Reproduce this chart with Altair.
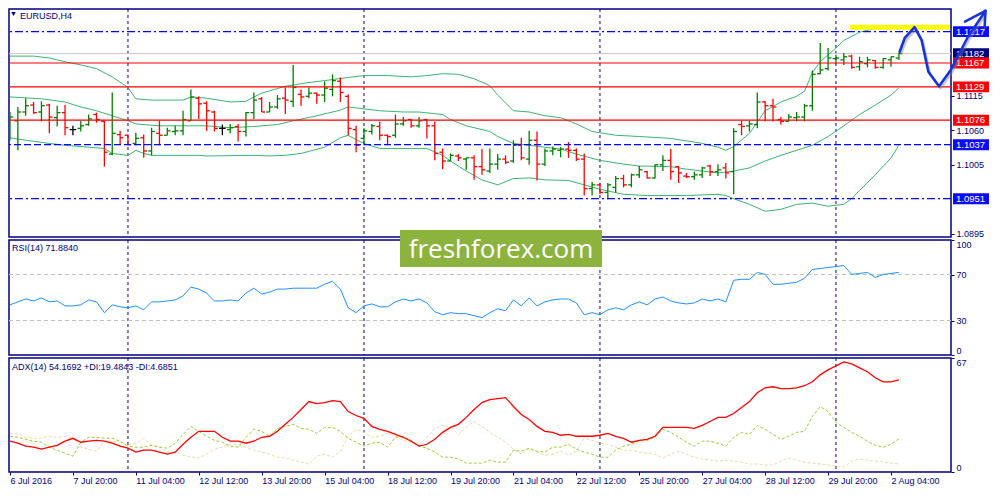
import json

import altair as alt
import pandas as pd

# EURUSD H4 bars, one per 4 hours from 6 Jul 2016 12:00
bar_open = [
    1.1074, 1.1075, 1.1089, 1.1100, 1.1089, 1.1100, 1.1080, 1.1088, 1.1061, 1.1063,
    1.1069, 1.1085, 1.1074, 1.1022, 1.1053, 1.1052, 1.1039, 1.1048, 1.1027, 1.1055,
    1.1052, 1.1058, 1.1059, 1.1075, 1.1111, 1.1103, 1.1089, 1.1063, 1.1061, 1.1066,
    1.1058, 1.1088, 1.1110, 1.1089, 1.1097, 1.1111, 1.1106, 1.1117, 1.1114, 1.1119,
    1.1116, 1.1125, 1.1138, 1.1114, 1.1061, 1.1047, 1.1058, 1.1066, 1.1052, 1.1052,
    1.1070, 1.1077, 1.1067, 1.1077, 1.1067, 1.1025, 1.1011, 1.1019, 1.1014, 1.1016,
    1.1002, 1.0995, 1.1006, 1.1014, 1.1011, 1.1036, 1.1014, 1.1044, 1.1006, 1.1027,
    1.1028, 1.1030, 1.1028, 1.1014, 1.0967, 1.0973, 1.0961, 1.0969, 1.0983, 1.0973,
    1.0989, 1.0994, 1.0984, 1.1005, 1.1012, 1.1002, 1.0987, 1.0986, 1.0989, 1.1003,
    1.0994, 1.1000, 1.0994, 1.1069, 1.1067, 1.1069, 1.1105, 1.1099, 1.1077, 1.1074,
    1.1080, 1.1081, 1.1099, 1.1150, 1.1158, 1.1174, 1.1172, 1.1178, 1.1161, 1.1166,
    1.1171, 1.1160, 1.1172, 1.1175,
]
bar_high = [
    1.1089, 1.1097, 1.1111, 1.1105, 1.1106, 1.1102, 1.1099, 1.1100, 1.1067, 1.1075,
    1.1085, 1.1088, 1.1075, 1.1120, 1.1059, 1.1053, 1.1056, 1.1053, 1.1064, 1.1075,
    1.1064, 1.1067, 1.1091, 1.1125, 1.1114, 1.1106, 1.1091, 1.1069, 1.1070, 1.1070,
    1.1089, 1.1120, 1.1113, 1.1105, 1.1116, 1.1128, 1.1164, 1.1125, 1.1128, 1.1120,
    1.1138, 1.1149, 1.1144, 1.1117, 1.1067, 1.1063, 1.1070, 1.1074, 1.1053, 1.1085,
    1.1081, 1.1078, 1.1081, 1.1078, 1.1074, 1.1031, 1.1023, 1.1022, 1.1016, 1.1020,
    1.1030, 1.1031, 1.1022, 1.1020, 1.1044, 1.1048, 1.1059, 1.1058, 1.1031, 1.1034,
    1.1033, 1.1041, 1.1031, 1.1023, 1.0978, 1.0976, 1.0976, 1.0987, 1.0989, 1.0991,
    1.1003, 1.0995, 1.1006, 1.1020, 1.1030, 1.1003, 1.0992, 1.0994, 1.1002, 1.1005,
    1.1006, 1.1008, 1.1063, 1.1075, 1.1075, 1.1120, 1.1106, 1.1110, 1.1081, 1.1086,
    1.1089, 1.1102, 1.1155, 1.1199, 1.1191, 1.1180, 1.1183, 1.1180, 1.1177, 1.1177,
    1.1172, 1.1175, 1.1177, 1.1183,
]
bar_low = [
    1.1044, 1.1028, 1.1083, 1.1086, 1.1074, 1.1055, 1.1066, 1.1052, 1.1052, 1.1058,
    1.1067, 1.1072, 1.1002, 1.1020, 1.1037, 1.1036, 1.1036, 1.1016, 1.1020, 1.1036,
    1.1052, 1.1052, 1.1052, 1.1075, 1.1078, 1.1059, 1.1058, 1.1052, 1.1055, 1.1042,
    1.1050, 1.1078, 1.1089, 1.1089, 1.1094, 1.1086, 1.1097, 1.1099, 1.1111, 1.1102,
    1.1105, 1.1114, 1.1105, 1.1052, 1.1025, 1.1036, 1.1053, 1.1044, 1.1036, 1.1048,
    1.1067, 1.1064, 1.1064, 1.1047, 1.1012, 1.0998, 1.1011, 1.1011, 1.0997, 1.0981,
    1.0989, 1.0992, 1.0997, 1.1006, 1.1008, 1.1012, 1.1005, 1.0980, 1.1003, 1.1020,
    1.1017, 1.1016, 1.1011, 1.0956, 1.0956, 1.0958, 1.0950, 1.0961, 1.0969, 1.0969,
    1.0984, 1.0983, 1.0983, 1.0995, 1.0981, 1.0976, 1.0984, 1.0981, 1.0984, 1.0987,
    1.0987, 1.0983, 1.0958, 1.1052, 1.1058, 1.1063, 1.1074, 1.1074, 1.1069, 1.1074,
    1.1074, 1.1074, 1.1091, 1.1149, 1.1155, 1.1166, 1.1164, 1.1158, 1.1155, 1.1160,
    1.1158, 1.1158, 1.1161, 1.1172,
]
bar_close = [
    1.1081, 1.1089, 1.1099, 1.1088, 1.1099, 1.1081, 1.1088, 1.1064, 1.1061, 1.1067,
    1.1078, 1.1077, 1.1025, 1.1055, 1.1048, 1.1037, 1.1047, 1.1027, 1.1058, 1.1052,
    1.1059, 1.1059, 1.1077, 1.1113, 1.1102, 1.1091, 1.1063, 1.1063, 1.1064, 1.1058,
    1.1088, 1.1108, 1.1089, 1.1097, 1.1110, 1.1108, 1.1128, 1.1113, 1.1119, 1.1116,
    1.1127, 1.1139, 1.1120, 1.1063, 1.1036, 1.1059, 1.1067, 1.1052, 1.1050, 1.1070,
    1.1075, 1.1067, 1.1075, 1.1067, 1.1023, 1.1011, 1.1020, 1.1016, 1.1016, 1.1002,
    1.0997, 1.1006, 1.1014, 1.1009, 1.1036, 1.1016, 1.1044, 1.1006, 1.1027, 1.1030,
    1.1030, 1.1028, 1.1014, 1.0967, 1.0973, 1.0961, 1.0973, 1.0983, 1.0973, 1.0989,
    1.0997, 1.0984, 1.1005, 1.1012, 1.0994, 1.0992, 1.0986, 1.0989, 1.1000, 1.0994,
    1.0997, 1.0992, 1.1058, 1.1066, 1.1070, 1.1105, 1.1099, 1.1097, 1.1074, 1.1081,
    1.1081, 1.1099, 1.1149, 1.1156, 1.1175, 1.1175, 1.1177, 1.1160, 1.1169, 1.1172,
    1.1160, 1.1174, 1.1177, 1.1182,
]

# Bollinger bands, read at selected bars
upper_bar = [0, 3, 5, 7, 9, 11, 13, 15, 16, 18, 20, 22, 23, 25, 28, 30, 31, 32, 35, 38,
             40, 43, 45, 48, 51, 53, 55, 57, 59, 61, 62, 64, 66, 68, 70, 72, 74, 77, 80, 84,
             88, 90, 91, 92, 94, 96, 98, 100, 101, 102, 103, 104, 105, 106, 108, 110, 112, 113]
upper_val = [1.1178, 1.1178, 1.1175, 1.1169, 1.1164, 1.1158, 1.1145, 1.1128, 1.1110, 1.1108,
             1.1108, 1.1108, 1.1113, 1.1111, 1.1105, 1.1106, 1.1113, 1.1119, 1.1130, 1.1136,
             1.1139, 1.1144, 1.1147, 1.1147, 1.1145, 1.1147, 1.1150, 1.1149, 1.1142, 1.1131,
             1.1116, 1.1091, 1.1089, 1.1083, 1.1080, 1.1070, 1.1058, 1.1052, 1.1050, 1.1047,
             1.1039, 1.1033, 1.1028, 1.1034, 1.1055, 1.1091, 1.1105, 1.1114, 1.1122, 1.1152,
             1.1169, 1.1180, 1.1191, 1.1203, 1.1216, 1.1222, 1.1224, 1.1221]
middle_bar = [0, 4, 7, 9, 11, 13, 15, 16, 19, 23, 25, 28, 31, 34, 36, 39, 42, 43, 45, 47,
              50, 52, 55, 56, 58, 61, 62, 64, 68, 70, 72, 75, 78, 80, 84, 86, 90, 92, 94, 96,
              98, 100, 102, 104, 106, 108, 110, 112, 113]
middle_val = [1.1113, 1.1110, 1.1105, 1.1097, 1.1091, 1.1083, 1.1075, 1.1070, 1.1067, 1.1067,
              1.1067, 1.1064, 1.1066, 1.1069, 1.1075, 1.1083, 1.1092, 1.1097, 1.1094, 1.1091,
              1.1089, 1.1089, 1.1085, 1.1077, 1.1067, 1.1058, 1.1050, 1.1039, 1.1033, 1.1030,
              1.1022, 1.1012, 1.1006, 1.1003, 1.1002, 1.0998, 1.0992, 1.0995, 1.1000, 1.1011,
              1.1020, 1.1028, 1.1036, 1.1050, 1.1067, 1.1085, 1.1100, 1.1116, 1.1127]
lower_bar = [0, 2, 5, 7, 10, 12, 13, 15, 16, 17, 18, 24, 25, 31, 33, 35, 37, 40, 42, 43,
             44, 45, 47, 51, 53, 55, 56, 58, 60, 62, 64, 66, 68, 71, 73, 75, 78, 81, 86, 90,
             91, 92, 94, 96, 98, 100, 102, 104, 106, 107, 108, 110, 112, 113]
lower_val = [1.1048, 1.1044, 1.1039, 1.1036, 1.1033, 1.1031, 1.1023, 1.1020, 1.1028, 1.1023,
             1.1020, 1.1020, 1.1019, 1.1020, 1.1019, 1.1020, 1.1023, 1.1033, 1.1048, 1.1052,
             1.1045, 1.1039, 1.1031, 1.1031, 1.1031, 1.1020, 1.1011, 1.0995, 1.0981, 1.0973,
             1.0983, 1.0984, 1.0981, 1.0980, 1.0973, 1.0966, 1.0958, 1.0956, 1.0956, 1.0958,
             1.0956, 1.0951, 1.0942, 1.0931, 1.0934, 1.0942, 1.0944, 1.0939, 1.0942, 1.0951,
             1.0964, 1.0989, 1.1016, 1.1036]

rsi_14 = [
    43.6, 46.2, 48.7, 47.0, 49.6, 46.2, 47.0, 42.7, 42.7, 43.6,
    47.9, 46.2, 36.8, 43.6, 41.9, 41.0, 42.7, 39.3, 46.2, 46.2,
    47.0, 47.9, 51.3, 59.0, 57.3, 53.8, 47.0, 47.0, 47.9, 47.0,
    53.8, 58.1, 53.0, 54.7, 57.3, 57.3, 58.1, 58.1, 58.1, 58.1,
    61.5, 64.1, 57.3, 41.0, 36.8, 42.7, 44.4, 41.9, 41.9, 46.2,
    48.7, 47.0, 48.7, 45.3, 37.6, 35.0, 36.8, 35.9, 35.9, 34.2,
    32.5, 36.8, 40.2, 38.5, 47.9, 42.7, 49.6, 42.7, 46.2, 47.9,
    48.7, 48.7, 45.3, 35.0, 36.8, 35.0, 39.3, 41.0, 39.3, 43.6,
    46.2, 43.6, 48.7, 50.4, 47.0, 45.3, 44.4, 45.3, 48.7, 47.0,
    48.7, 46.2, 65.0, 65.8, 65.8, 71.8, 70.1, 61.5, 61.5, 62.4,
    63.2, 66.7, 74.4, 75.2, 76.1, 76.9, 77.8, 70.1, 70.9, 71.8,
    67.5, 70.1, 70.9, 71.9,
]
adx_14 = [
    18.1, 16.9, 15.2, 14.6, 13.4, 14.6, 15.7, 18.1, 19.8, 17.5,
    18.1, 18.6, 18.1, 16.9, 15.2, 14.0, 11.7, 12.8, 12.8, 11.7,
    10.5, 11.7, 16.3, 20.4, 23.9, 23.9, 23.9, 20.4, 18.1, 18.1,
    16.9, 18.1, 20.4, 21.0, 23.9, 28.0, 32.1, 36.7, 41.4, 40.2,
    40.8, 42.0, 41.4, 35.5, 33.2, 31.5, 26.8, 25.1, 23.9, 22.1,
    20.4, 18.1, 15.2, 16.3, 19.2, 23.3, 26.2, 28.0, 32.1, 36.7,
    40.8, 42.5, 43.1, 43.7, 38.5, 33.8, 30.9, 26.8, 23.9, 23.3,
    21.6, 22.1, 21.0, 21.0, 21.0, 21.6, 22.7, 21.0, 19.8, 17.5,
    18.6, 19.2, 21.0, 26.2, 26.2, 26.2, 26.2, 25.6, 27.4, 29.7,
    32.1, 32.1, 34.4, 37.9, 41.4, 46.6, 49.5, 50.1, 49.0, 49.0,
    49.5, 50.7, 53.0, 57.1, 60.0, 62.4, 64.7, 63.5, 61.2, 58.9,
    55.4, 53.0, 53.0, 54.2,
]
plus_di = [
    21.0, 20.4, 19.2, 18.1, 17.5, 14.6, 12.8, 11.1, 9.3, 17.5,
    20.4, 20.4, 19.8, 19.8, 18.1, 15.2, 14.6, 14.6, 15.7, 14.6,
    14.0, 16.9, 22.1, 26.8, 23.9, 21.0, 18.6, 17.5, 15.2, 14.6,
    20.4, 25.1, 23.9, 21.0, 25.6, 26.8, 28.0, 25.6, 25.1, 22.7,
    26.2, 26.2, 23.9, 19.8, 17.5, 15.2, 16.9, 17.5, 14.6, 20.4,
    21.0, 18.6, 15.2, 14.0, 11.7, 8.7, 8.7, 7.6, 5.2, 5.2,
    5.2, 7.0, 5.8, 5.8, 12.8, 12.2, 14.0, 12.2, 11.7, 14.6,
    14.6, 16.3, 13.4, 11.7, 10.5, 8.7, 8.7, 12.8, 15.2, 16.3,
    18.1, 18.6, 20.4, 25.1, 23.3, 20.4, 17.5, 15.2, 18.1, 18.1,
    16.9, 15.2, 20.4, 23.3, 22.1, 27.4, 25.1, 22.1, 19.2, 21.0,
    23.3, 23.9, 32.6, 38.5, 35.5, 29.1, 26.2, 23.3, 21.0, 18.1,
    15.7, 14.6, 16.3, 19.5,
]
minus_di = [
    22.7, 22.7, 20.4, 19.8, 19.8, 21.0, 20.4, 21.0, 19.8, 14.6,
    13.4, 12.2, 18.1, 18.1, 17.5, 15.7, 16.9, 19.8, 15.7, 14.6,
    12.2, 11.7, 9.9, 8.7, 8.2, 10.5, 13.4, 14.6, 16.3, 16.3,
    14.6, 12.8, 11.7, 10.5, 8.7, 8.2, 7.0, 5.8, 4.7, 9.3,
    10.5, 8.7, 12.2, 21.0, 25.1, 23.3, 20.4, 21.0, 22.7, 21.0,
    18.6, 17.5, 16.3, 20.4, 25.6, 27.4, 26.2, 22.1, 26.2, 29.7,
    26.8, 23.3, 20.4, 17.5, 13.4, 10.5, 13.4, 11.7, 9.9, 10.5,
    12.2, 9.9, 12.2, 19.8, 18.6, 16.9, 16.3, 14.6, 12.8, 12.8,
    11.7, 11.1, 10.5, 8.2, 10.5, 12.2, 10.5, 8.7, 7.6, 7.0,
    6.4, 7.0, 6.4, 5.8, 4.7, 4.7, 4.1, 4.1, 6.4, 8.2,
    7.0, 5.8, 5.2, 4.7, 4.1, 3.5, 2.9, 6.4, 7.6, 7.0,
    6.4, 5.8, 5.2, 4.7,
]

time_labels = ["6 Jul 2016", "7 Jul 20:00", "11 Jul 04:00", "12 Jul 12:00", "13 Jul 20:00",
               "15 Jul 04:00", "18 Jul 12:00", "19 Jul 20:00", "21 Jul 04:00", "22 Jul 12:00",
               "25 Jul 20:00", "27 Jul 04:00", "28 Jul 12:00", "29 Jul 20:00", "2 Aug 04:00"]
label_bars = list(range(0, 113, 8))
week_starts = [15, 45, 75, 105]

red_levels = [1.1167, 1.1129, 1.1076]
blue_levels = [1.1217, 1.0951]
blue_dashed_levels = [1.1037]
bid_price = 1.1182
price_ticks = [1.0895, 1.1005, 1.1060, 1.1115]
box_prices = [1.1217, 1.1182, 1.1167, 1.1129, 1.1076, 1.1037, 1.0951]
box_kinds = ["blue", "bid", "red", "red", "red", "blue", "blue"]

target_from, target_to, target_level = 106.75, 119.4, 1.1224
path_bar = [113.1, 113.75, 115.0, 115.9, 116.75, 118.1, 119.6, 121.75, 124.0]
path_price = [1.1185, 1.1207, 1.1224, 1.1203, 1.1153, 1.1130, 1.1156, 1.1208, 1.1250]
head_bar = [121.4, 123.9]
head_price = [1.1233, 1.1223]

NAVY = "#000080"
FONT = "Liberation Sans"
W = 942
H_PRICE, H_RSI, H_ADX = 228, 115, 114

x_scale = alt.Scale(domain=[-0.125, 119.625], nice=False, zero=False)
p_scale = alt.Scale(domain=[1.0890, 1.1253], nice=False, zero=False)
r_scale = alt.Scale(domain=[0, 100], nice=False, zero=False)
a_scale = alt.Scale(domain=[0, 67], nice=False, zero=False)


def right_axis(values, fmt=None, flush=False):
    opts = dict(orient="right", values=values, labelFlush=flush, tickSize=3, tickColor=NAVY,
                labelColor=NAVY, labelFont=FONT, labelFontSize=9, labelPadding=2,
                domain=False, grid=False, title=None, labelOverlap=False)
    if fmt:
        opts["format"] = fmt
    return alt.Axis(**opts)


time_axis = alt.Axis(
    values=label_bars, labelExpr=f"{json.dumps(time_labels)}[round(datum.value / 8)]",
    labelAlign="left", labelBaseline="top", labelPadding=1, labelFlush=False,
    labelOverlap=False, tickSize=3, tickColor=NAVY, labelColor=NAVY, labelFont=FONT,
    labelFontSize=9, domain=False, grid=False, title=None)

# every layer of a panel carries the same axis, so the shared axis survives the merge
price_y = right_axis(price_ticks, ".4f")
rsi_y = right_axis([0, 30, 70, 100], flush=True)
adx_y = right_axis([0, 67], flush=True)


def xq(field, axis=None):
    return alt.X(field, scale=x_scale, axis=axis)


def pq(field):
    return alt.Y(field, scale=p_scale, axis=price_y)


def label(text, x, y, color=NAVY):
    return alt.Chart(pd.DataFrame({"t": [text]})).mark_text(
        align="left", baseline="middle", font=FONT, fontSize=9, color=color
    ).encode(x=alt.value(x), y=alt.value(y), text="t:N")


def separators(axis=None):
    return alt.Chart(pd.DataFrame({"i": week_starts})).mark_rule(
        color=NAVY, strokeDash=[3, 3], strokeWidth=1, clip=True
    ).encode(x=xq("i:Q", axis))


# ---------- price panel ----------
bars = pd.DataFrame({"i": range(len(bar_open)), "o": bar_open, "h": bar_high,
                     "l": bar_low, "c": bar_close})
bars["dir"] = ["up" if c > o else "down" if c < o else "flat"
               for o, c in zip(bar_open, bar_close)]
bar_color = alt.Color("dir:N", legend=None,
                      scale=alt.Scale(domain=["up", "down", "flat"],
                                      range=["#008000", "#ff0000", "#000000"]))

hl = alt.Chart(bars).mark_rule(strokeWidth=1.3, clip=True).encode(
    x=xq("i:Q"), y=pq("h:Q"), y2="l:Q", color=bar_color)
opens = alt.Chart(bars).transform_calculate(left="datum.i - 0.42").mark_rule(
    strokeWidth=1.3, clip=True
).encode(x=xq("left:Q"), x2="i:Q", y=pq("o:Q"), color=bar_color)
closes = alt.Chart(bars).transform_calculate(right="datum.i + 0.42").mark_rule(
    strokeWidth=1.3, clip=True
).encode(x=xq("i:Q"), x2="right:Q", y=pq("c:Q"), color=bar_color)

bands = pd.concat([
    pd.DataFrame({"band": "upper", "i": upper_bar, "v": upper_val}),
    pd.DataFrame({"band": "middle", "i": middle_bar, "v": middle_val}),
    pd.DataFrame({"band": "lower", "i": lower_bar, "v": lower_val}),
])
band_lines = alt.Chart(bands).mark_line(color="#3cb371", strokeWidth=1, clip=True).encode(
    x=xq("i:Q"), y=pq("v:Q"), detail="band:N")

bid_line = alt.Chart(pd.DataFrame({"p": [bid_price]})).mark_rule(
    color="#c8c8c8", strokeWidth=1, clip=True).encode(y=pq("p:Q"))
red_lines = alt.Chart(pd.DataFrame({"p": red_levels})).mark_rule(
    color="#ff0000", strokeWidth=1.2, clip=True).encode(y=pq("p:Q"))
blue_lines = alt.Chart(pd.DataFrame({"p": blue_levels})).mark_rule(
    color="#0000ff", strokeWidth=1.3, strokeDash=[8, 3, 2, 3], clip=True).encode(y=pq("p:Q"))
blue_dashed = alt.Chart(pd.DataFrame({"p": blue_dashed_levels})).mark_rule(
    color="#0000ff", strokeWidth=1.3, strokeDash=[7, 3], clip=True).encode(y=pq("p:Q"))

target = alt.Chart(pd.DataFrame({"a": [target_from], "b": [target_to], "p": [target_level]})).mark_rule(
    color="#ffff00", strokeWidth=5, clip=True).encode(x=xq("a:Q"), x2="b:Q", y=pq("p:Q"))

boxes = pd.DataFrame({"p": box_prices, "kind": box_kinds,
                      "txt": [f"{v:.4f}" for v in box_prices]})
box_rect = alt.Chart(boxes).transform_calculate(
    lo="datum.p - 0.00087", hi="datum.p + 0.00087"
).mark_rect(clip=False).encode(
    x=alt.value(W + 2), x2=alt.value(W + 38), y=pq("lo:Q"), y2="hi:Q",
    fill=alt.Fill("kind:N", legend=None,
                  scale=alt.Scale(domain=["blue", "bid", "red"],
                                  range=["#0a0aff", NAVY, "#ff0000"])))
box_text = alt.Chart(boxes).mark_text(
    align="left", baseline="middle", font=FONT, fontSize=9.5, color="white", clip=False
).encode(x=alt.value(W + 5), y=pq("p:Q"), text="txt:N")

path = pd.DataFrame({"k": range(len(path_bar)), "i": path_bar, "p": path_price})
path_shadow = alt.Chart(path).mark_line(
    color="#808080", opacity=0.45, strokeWidth=2.6, clip=False, xOffset=1.5, yOffset=2,
    strokeJoin="round"
).encode(x=xq("i:Q"), y=pq("p:Q"), order="k:Q")
path_line = alt.Chart(path).mark_line(
    color="#1a33d6", strokeWidth=2.6, clip=False, strokeCap="round", strokeJoin="round"
).encode(x=xq("i:Q"), y=pq("p:Q"), order="k:Q")
head = alt.Chart(pd.DataFrame({"i": head_bar, "p": head_price,
                               "ti": [path_bar[-1]] * 2, "tp": [path_price[-1]] * 2})).mark_rule(
    color="#1a33d6", strokeWidth=2.6, clip=False, strokeCap="round", strokeJoin="round"
).encode(x=xq("i:Q"), y=pq("p:Q"), x2="ti:Q", y2="tp:Q")

triangle = alt.Chart(pd.DataFrame({"t": ["EURUSD,H4"]})).mark_point(
    shape="triangle-down", filled=True, size=20, color=NAVY, opacity=1
).encode(x=alt.value(4.5), y=alt.value(5))

price = alt.layer(
    separators(), bid_line, band_lines, hl, opens, closes,
    red_lines, blue_lines, blue_dashed, target, box_rect, box_text,
    path_shadow, path_line, head, triangle, label("EURUSD,H4", 11, 7),
).properties(width=W, height=H_PRICE)

# ---------- RSI panel ----------
rsi_df = pd.DataFrame({"i": range(len(rsi_14)), "v": rsi_14})
rsi_levels = alt.Chart(pd.DataFrame({"v": [30, 70]})).mark_rule(
    color="#c0c0c0", strokeDash=[4, 3], strokeWidth=1, clip=True
).encode(y=alt.Y("v:Q", scale=r_scale, axis=rsi_y))
rsi_line = alt.Chart(rsi_df).mark_line(color="#1e90ff", strokeWidth=1, clip=True).encode(
    x=xq("i:Q"), y=alt.Y("v:Q", scale=r_scale, axis=rsi_y))
rsi_panel = alt.layer(
    separators(), rsi_levels, rsi_line, label("RSI(14) 71.8840", 3, 8)
).properties(width=W, height=H_RSI)

# ---------- ADX panel ----------
adx_df = pd.DataFrame({"i": range(len(adx_14)), "adx": adx_14, "pdi": plus_di, "mdi": minus_di})
mdi_line = alt.Chart(adx_df).mark_line(
    color="#f5d7a8", strokeWidth=1, strokeDash=[3, 2], clip=True
).encode(x=xq("i:Q", time_axis), y=alt.Y("mdi:Q", scale=a_scale, axis=adx_y))
pdi_line = alt.Chart(adx_df).mark_line(
    color="#9acd32", strokeWidth=1, strokeDash=[3, 2], clip=True
).encode(x=xq("i:Q", time_axis), y=alt.Y("pdi:Q", scale=a_scale, axis=adx_y))
adx_line = alt.Chart(adx_df).mark_line(color="#ff0000", strokeWidth=1.3, clip=True).encode(
    x=xq("i:Q", time_axis), y=alt.Y("adx:Q", scale=a_scale, axis=adx_y))

# watermark sits across the price/RSI border, positioned from the ADX panel top
adx_top = H_PRICE + 3 + H_RSI + 3
wm = alt.Chart(pd.DataFrame({"t": ["freshforex.com"]}))
wm_box = wm.mark_rect(color="#8db33f", clip=False).encode(
    x=alt.value(391), x2=alt.value(593), y=alt.value(221 - adx_top), y2=alt.value(258 - adx_top))
wm_text = wm.mark_text(font="Open Sans", fontSize=26, color="white", align="center",
                       baseline="alphabetic", clip=False).encode(
    x=alt.value(492), y=alt.value(249 - adx_top), text="t:N")

adx_panel = alt.layer(
    separators(time_axis), mdi_line, pdi_line, adx_line,
    label("ADX(14) 54.1692 +DI:19.4843 -DI:4.6851", 3, 9), wm_box, wm_text,
).properties(width=W, height=H_ADX)

chart = alt.vconcat(price, rsi_panel, adx_panel, spacing=3, bounds="flush").resolve_scale(
    x="independent", y="independent"
).properties(padding=0, background="white").configure_view(stroke=NAVY, strokeWidth=1.5)

chart.save("out.html", embed_options={"renderer": "svg", "actions": False})
